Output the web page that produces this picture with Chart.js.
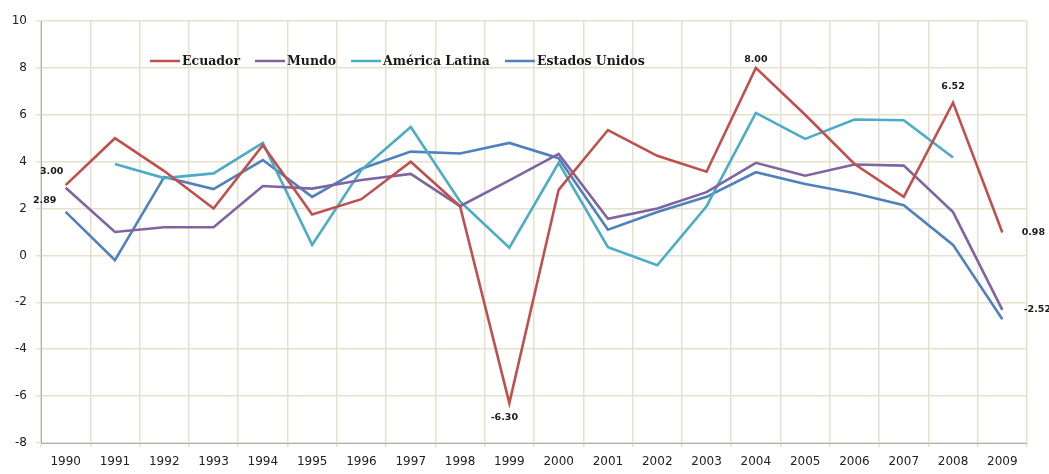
<!DOCTYPE html>
<html lang="es">
<head>
<meta charset="UTF-8">
<title>Crecimiento del PIB</title>
<script src="https://cdn.jsdelivr.net/npm/chart.js"></script>
<style>
    body { margin: 0; padding: 0; background: #fff; }
    #wrap { width: 1049px; height: 474px; }
</style>
</head>
<body>
<div id="wrap"><canvas id="chart"></canvas></div>
<script>
// Datos
const years = ["1990","1991","1992","1993","1994","1995","1996","1997","1998","1999",
               "2000","2001","2002","2003","2004","2005","2006","2007","2008","2009"];
const ecuador = [3.00, 5.0, 3.6, 2.0, 4.7, 1.75, 2.4, 4.0, 2.1, -6.30,
                 2.8, 5.35, 4.25, 3.57, 8.00, 6.0, 3.9, 2.5, 6.52, 0.98];
const mundo = [2.89, 1.0, 1.2, 1.2, 2.96, 2.85, 3.22, 3.48, 2.1, 3.2,
               4.33, 1.56, 2.0, 2.7, 3.95, 3.4, 3.88, 3.83, 1.85, -2.32];
const americaLatina = [null, 3.9, 3.3, 3.5, 4.8, 0.45, 3.65, 5.48, 2.3, 0.33,
                       3.95, 0.35, -0.42, 2.1, 6.08, 4.97, 5.8, 5.77, 4.18, null];
const estadosUnidos = [1.86, -0.2, 3.35, 2.83, 4.07, 2.5, 3.7, 4.43, 4.35, 4.8,
                       4.15, 1.1, 1.85, 2.5, 3.55, 3.05, 2.65, 2.14, 0.45, -2.72];
const yTicks = [-8, -6, -4, -2, 0, 2, 4, 6, 8, 10];

// etiquetas de valores: serie, año, texto
const pointLabels = [
    {ds: 0, i: 0,  text: "3.00",  dx: -14, dy: -14},
    {ds: 1, i: 0,  text: "2.89",  dx: -21, dy: 13},
    {ds: 0, i: 14, text: "8.00",  dx: 0,   dy: -8},
    {ds: 0, i: 18, text: "6.52",  dx: 0,   dy: -16},
    {ds: 0, i: 9,  text: "-6.30", dx: -5,  dy: 14},
    {ds: 0, i: 19, text: "0.98",  dx: 31,  dy: 0},
    {ds: 1, i: 19, text: "-2.52", dx: 35,  dy: 0}
];

// leyenda dibujada dentro del área del gráfico
const legendInside = {
    id: 'legendInside',
    afterDatasetsDraw(chart) {
        const ctx = chart.ctx;
        ctx.save();
        ctx.font = 'bold 12.5px "DejaVu Serif"';
        ctx.textBaseline = 'middle';
        let x = 150;
        const y = 61;
        chart.data.datasets.forEach(ds => {
            ctx.strokeStyle = ds.borderColor;
            ctx.lineWidth = 2.5;
            ctx.beginPath();
            ctx.moveTo(x, y);
            ctx.lineTo(x + 30, y);
            ctx.stroke();
            ctx.fillStyle = '#1a1a1a';
            ctx.fillText(ds.label, x + 32, y + 1);
            x += 32 + ctx.measureText(ds.label).width + 15;
        });
        ctx.restore();
    }
};

const valueLabels = {
    id: 'valueLabels',
    afterDatasetsDraw(chart) {
        const ctx = chart.ctx;
        ctx.save();
        ctx.font = 'bold 9.5px "DejaVu Sans"';
        ctx.fillStyle = '#1a1a1a';
        ctx.textAlign = 'center';
        ctx.textBaseline = 'middle';
        pointLabels.forEach(l => {
            const pt = chart.getDatasetMeta(l.ds).data[l.i];
            ctx.fillText(l.text, pt.x + l.dx, pt.y + l.dy);
        });
        ctx.restore();
    }
};

const gridColor = '#e6e1cd';

new Chart(document.getElementById('chart'), {
    type: 'line',
    data: {
        labels: years,
        datasets: [
            {label: "Ecuador", data: ecuador, borderColor: "#c0504d"},
            {label: "Mundo", data: mundo, borderColor: "#8064a2"},
            {label: "América Latina", data: americaLatina, borderColor: "#4bacc6"},
            {label: "Estados Unidos", data: estadosUnidos, borderColor: "#4f81bd"}
        ]
    },
    options: {
        responsive: true,
        maintainAspectRatio: false,
        animation: false,
        layout: { padding: { top: 21, right: 22, left: 0, bottom: 0 } },
        elements: {
            line: { borderWidth: 2.6, tension: 0, fill: false },
            point: { radius: 0 }
        },
        plugins: { legend: { display: false }, tooltip: { enabled: false } },
        scales: {
            x: {
                offset: true,
                grid: { offset: true, color: gridColor, lineWidth: 1.5, tickLength: 4 },
                border: { color: '#b0b0b0', width: 1 },
                ticks: { color: '#222', font: { family: 'DejaVu Sans', size: 12 }, padding: 8, maxRotation: 0, autoSkip: false },
                afterFit: s => { s.height = 31; }
            },
            y: {
                min: -8, max: 10,
                afterBuildTicks: s => { s.ticks = yTicks.map(v => ({value: v})); },
                grid: { color: gridColor, lineWidth: 1.5, tickLength: 5 },
                border: { color: '#b0b0b0', width: 1 },
                ticks: { color: '#222', font: { family: 'DejaVu Sans', size: 12 }, padding: 9 },
                afterFit: s => { s.width = 41; }
            }
        }
    },
    plugins: [legendInside, valueLabels]
});
</script>
</body>
</html>
